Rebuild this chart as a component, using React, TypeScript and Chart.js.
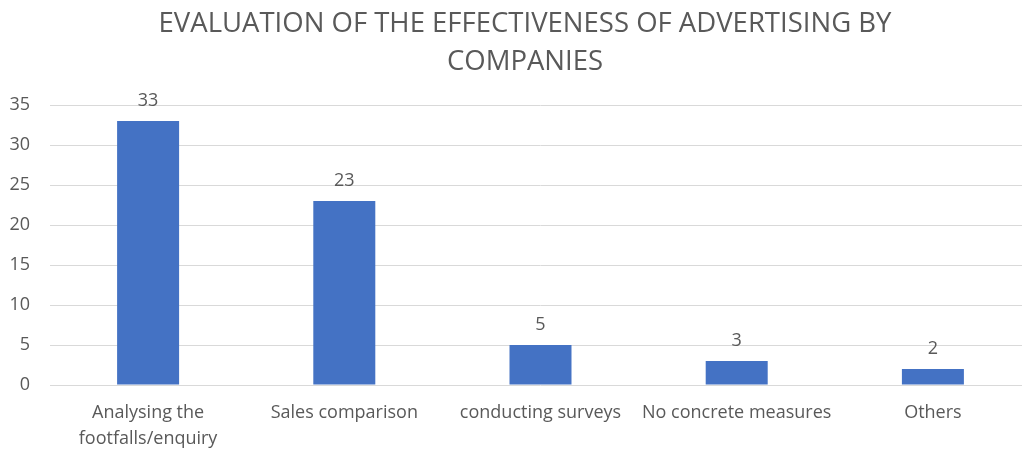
import React, { useEffect, useRef } from "react";
import { Chart, registerables } from "chart.js";

Chart.register(...registerables);

const categories: (string | string[])[] = [
  ["Analysing the", "footfalls/enquiry"],
  "Sales comparison",
  "conducting surveys",
  "No concrete measures",
  "Others",
];
const values: number[] = [33, 23, 5, 3, 2];
const titleLines: string[] = [
  "EVALUATION OF THE EFFECTIVENESS OF ADVERTISING BY",
  "COMPANIES",
];
const yMin = 0;
const yMax = 35;
const yStep = 5;

const TEXT = "#595959";
const FONT = "'Open Sans', sans-serif";

const valueLabels = {
  id: "valueLabels",
  afterLayout(chart: any) {
    const t = chart.titleBlock;
    if (t) {
      t.left += 9.5;
      t.right += 9.5;
    }
  },
  afterDatasetsDraw(chart: any) {
    const ctx = chart.ctx;
    const meta = chart.getDatasetMeta(0);
    ctx.save();
    ctx.fillStyle = TEXT;
    ctx.font = "18px " + FONT;
    ctx.textAlign = "center";
    ctx.textBaseline = "alphabetic";
    meta.data.forEach((bar: any, i: number) => {
      ctx.fillText(String(values[i]), bar.x, bar.y - 15);
    });
    ctx.restore();
  },
};

export default function App() {
  const ref = useRef<HTMLCanvasElement | null>(null);
  useEffect(() => {
    if (!ref.current) return;
    const chart = new Chart(ref.current, {
      type: "bar",
      data: {
        labels: categories,
        datasets: [
          {
            data: values,
            backgroundColor: "#4472C4",
            barPercentage: 0.316,
            categoryPercentage: 1,
          },
        ],
      },
      options: {
        animation: false,
        responsive: true,
        maintainAspectRatio: false,
        layout: { padding: { left: 0, right: 19, top: 0, bottom: 0 } },
        plugins: {
          legend: { display: false },
          tooltip: { enabled: false },
          title: {
            display: true,
            text: titleLines,
            color: TEXT,
            font: { family: FONT, size: 27.5, weight: "normal", lineHeight: 38 / 27.5 },
            padding: { top: 5, bottom: 24 },
          },
        },
        scales: {
          x: {
            grid: { display: false },
            border: { display: false },
            ticks: {
              color: TEXT,
              font: { family: FONT, size: 18, lineHeight: 26 / 18 },
              padding: 7,
              maxRotation: 0,
              autoSkip: false,
            },
            afterFit: (s: any) => {
              s.height = 64;
            },
          },
          y: {
            min: yMin,
            max: yMax,
            grid: { color: "#d9d9d9", lineWidth: 1, drawTicks: false },
            border: { display: false },
            ticks: {
              stepSize: yStep,
              color: TEXT,
              font: { family: FONT, size: 18 },
              padding: 20,
            },
            afterFit: (s: any) => {
              s.width = 50;
            },
          },
        },
      },
      plugins: [valueLabels],
    });
    return () => chart.destroy();
  }, []);
  return (
    <div
      style={{
        position: "fixed",
        left: 0,
        top: 0,
        width: 1022,
        height: 449,
        overflow: "hidden",
        background: "#fff",
      }}
    >
      <div style={{ position: "relative", width: 1050, height: 449 }}>
        <canvas ref={ref} />
      </div>
    </div>
  );
}
